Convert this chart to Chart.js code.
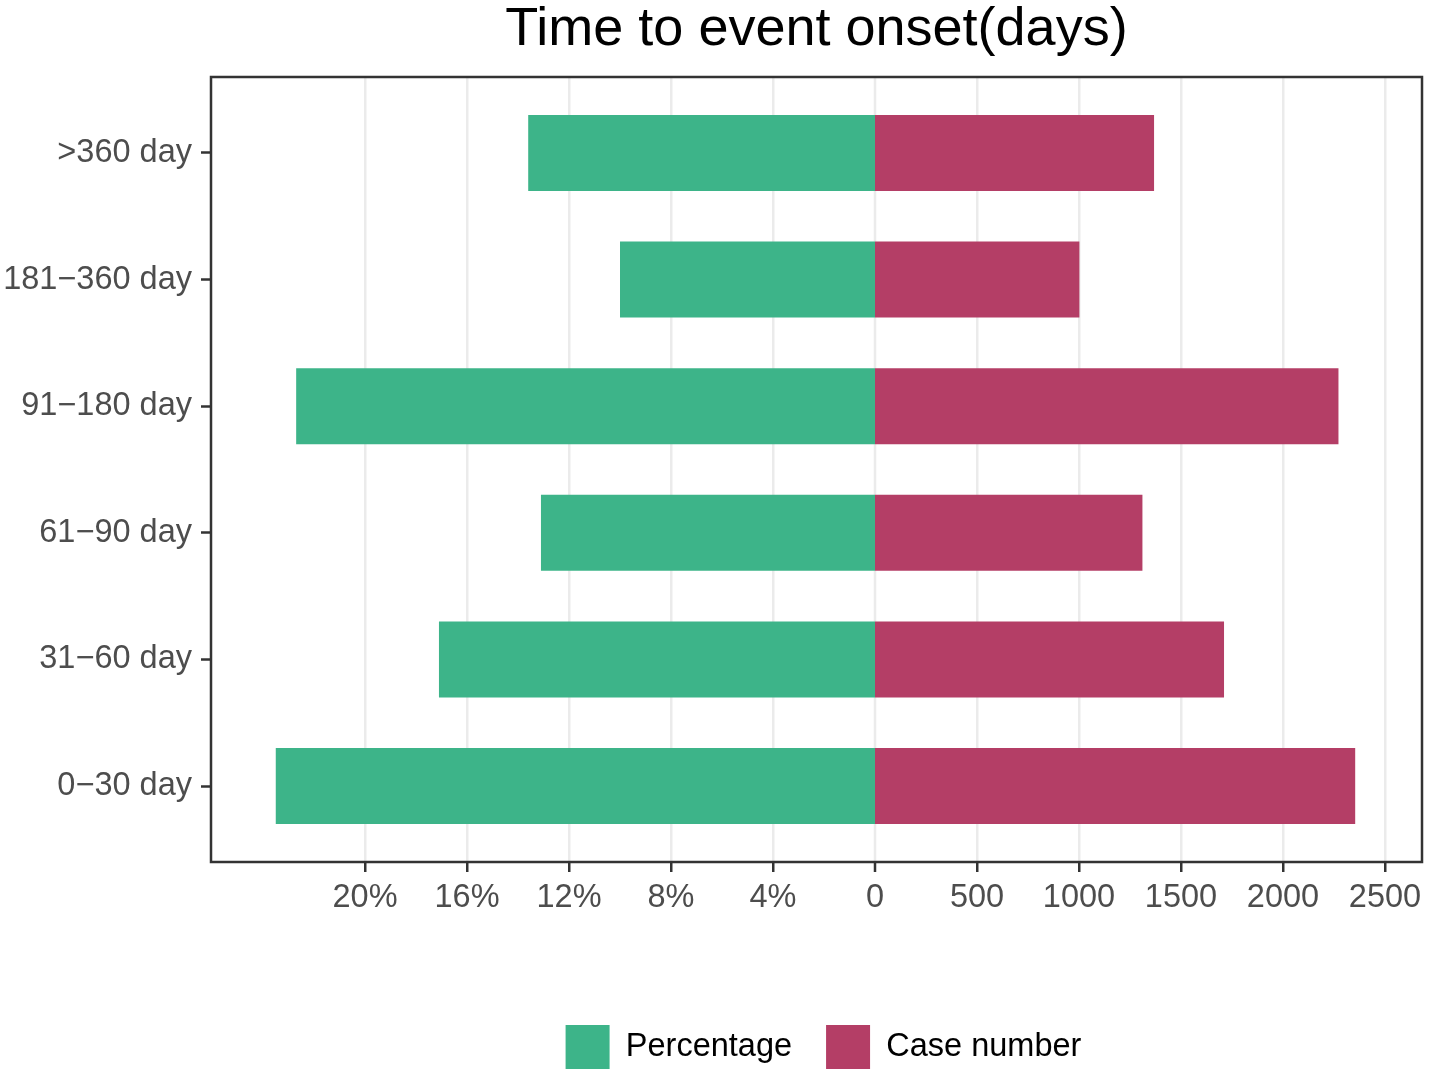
<!DOCTYPE html>
<html>
<head>
<meta charset="utf-8">
<script src="https://cdn.jsdelivr.net/npm/chart.js@4"></script>
<style>
  html, body { margin: 0; padding: 0; background: #ffffff; }
  #wrap { width: 1429px; height: 1075px; position: relative; }
</style>
</head>
<body>
<div id="wrap"><canvas id="c"></canvas></div>
<script>
// ---- data (bottom to top) ----
const categories = ['0\u221230 day', '31\u221260 day', '61\u221290 day', '91\u2212180 day', '181\u2212360 day', '>360 day'];
const percentages = [23.5, 17.1, 13.1, 22.7, 10.0, 13.6];   // % of cases
const caseNumbers = [2354, 1711, 1311, 2272, 1002, 1368];    // case counts
const tickValues = [-2500, -2000, -1500, -1000, -500, 0, 500, 1000, 1500, 2000, 2500];
const tickLabels = ['20%', '16%', '12%', '8%', '4%', '0', '500', '1000', '1500', '2000', '2500'];
const UNITS_PER_PERCENT = 125; // 4% on the left side lines up with 500 cases on the right

const FONT = "'Liberation Sans', Arial, Helvetica, sans-serif";
const GRID_COLOR = '#EBEBEB';
const GRID_WIDTH = 2.5;

const panelBorder = {
  id: 'panelBorder',
  afterLayout(chart) {
    // centre the legend like the original (small horizontal nudge)
    if (chart.legend) { chart.legend.left += 7; chart.legend.right += 7; }
  },
  beforeDatasetsDraw(chart) {
    // zero grid line (kept out of the scale's grid so bars sit flush at 0)
    const { ctx, chartArea: a, scales } = chart;
    const x0 = scales.x.getPixelForValue(0);
    ctx.save();
    ctx.strokeStyle = GRID_COLOR;
    ctx.lineWidth = GRID_WIDTH;
    ctx.beginPath();
    ctx.moveTo(x0, a.top);
    ctx.lineTo(x0, a.bottom);
    ctx.stroke();
    ctx.restore();
  },
  afterDatasetsDraw(chart) {
    const { ctx, chartArea: a } = chart;
    ctx.save();
    ctx.strokeStyle = '#333333';
    ctx.lineWidth = 2.5;
    ctx.strokeRect(a.left, a.top, a.right - a.left, a.bottom - a.top);
    ctx.restore();
  }
};

new Chart(document.getElementById('c'), {
  type: 'bar',
  data: {
    datasets: [
      {
        label: 'Percentage',
        data: percentages.map((p, i) => ({ x: -p * UNITS_PER_PERCENT, y: i })),
        backgroundColor: '#3DB489',
        borderWidth: 0,
        inflateAmount: 0
      },
      {
        label: 'Case number',
        data: caseNumbers.map((v, i) => ({ x: v, y: i })),
        backgroundColor: '#B43E66',
        borderWidth: 0,
        inflateAmount: 0
      }
    ]
  },
  options: {
    indexAxis: 'y',
    responsive: true,
    maintainAspectRatio: false,
    devicePixelRatio: 1,
    animation: false,
    barPercentage: 0.6,
    categoryPercentage: 1,
    layout: { padding: { left: 0, right: 7, top: 0, bottom: 6 } },
    scales: {
      x: {
        type: 'linear',
        stacked: true,
        min: -3255,
        max: 2681.5,
        afterBuildTicks(scale) { scale.ticks = tickValues.map(v => ({ value: v })); },
        afterFit(scale) { scale.height = 129; },
        ticks: {
          autoSkip: false,
          maxRotation: 0,
          padding: 7,
          color: '#4D4D4D',
          font: { family: FONT, size: 32.5 },
          callback(value) {
            const i = tickValues.indexOf(value);
            return i >= 0 ? tickLabels[i] : '';
          }
        },
        grid: {
          color: GRID_COLOR,
          lineWidth: (ctx) => (ctx.tick && ctx.tick.value === 0 ? 0 : GRID_WIDTH),
          drawOnChartArea: true,
          drawTicks: true,
          tickLength: 10,
          tickColor: '#333333',
          tickWidth: 2.5
        },
        border: { display: false }
      },
      y: {
        type: 'linear',
        stacked: true,
        offset: false,
        min: -0.6,
        max: 5.6,
        afterBuildTicks(scale) { scale.ticks = categories.map((c, i) => ({ value: i })); },
        afterFit(scale) { scale.width = 211; },
        ticks: {
          autoSkip: false,
          padding: 9,
          color: '#4D4D4D',
          font: { family: FONT, size: 32.5 },
          callback(value) { return categories[value] !== undefined ? categories[value] : ''; }
        },
        grid: {
          display: true,
          offset: false,
          drawOnChartArea: false,
          drawTicks: true,
          tickLength: 10,
          tickColor: '#333333',
          tickWidth: 2.5
        },
        border: { display: false }
      }
    },
    plugins: {
      title: {
        display: true,
        text: 'Time to event onset(days)',
        fullSize: false,
        color: '#000000',
        font: { family: FONT, size: 54, weight: 'normal', lineHeight: 1 },
        padding: { top: 3, bottom: 20 }
      },
      legend: {
        display: true,
        position: 'bottom',
        fullSize: false,
        maxHeight: 78,
        labels: {
          boxWidth: 44,
          boxHeight: 44,
          padding: 34,
          color: '#000000',
          font: { family: FONT, size: 32.5 }
        }
      },
      tooltip: { enabled: false }
    }
  },
  plugins: [panelBorder]
});
</script>
</body>
</html>
